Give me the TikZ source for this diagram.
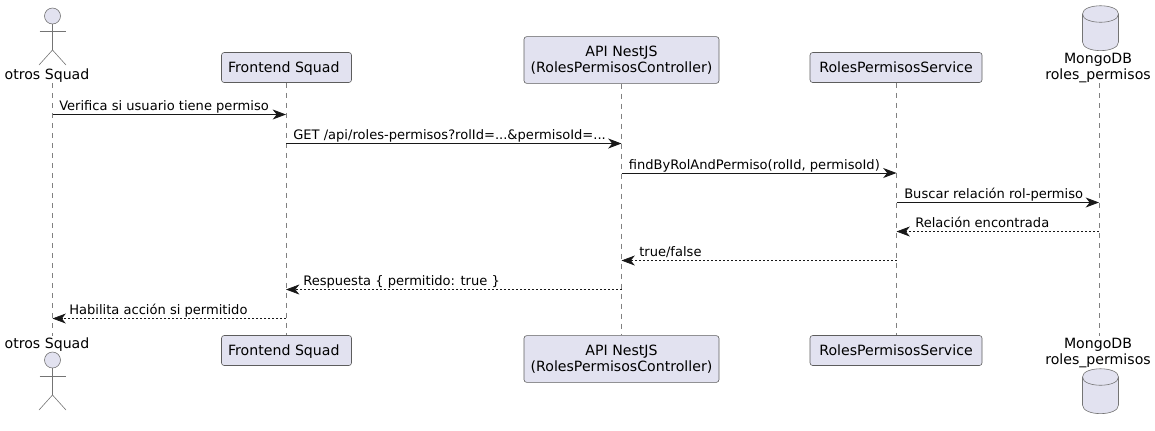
\documentclass[tikz,border=0pt]{standalone}
\usepackage{fontspec}
\usepackage{tikz}
\usetikzlibrary{arrows.meta,shapes.geometric}
\setmainfont{DejaVu Sans}
\definecolor{partfill}{HTML}{E2E2F0}
\definecolor{partline}{HTML}{181818}
\tikzset{
  part/.style={draw=partline!70,fill=partfill,line width=0.45pt,rounded corners=2pt,align=center,
    font=\fontsize{10.6}{12}\selectfont,inner sep=0pt},
  partone/.style={part,text height=9.5pt,text depth=2.2pt},
  plabel/.style={align=center,font=\fontsize{10.6}{12}\selectfont,inner sep=0pt},
  lifeline/.style={draw=partline!55,line width=0.35pt,dash pattern=on 3.75pt off 3.75pt},
  stick/.style={draw=partline!60,line width=0.45pt},
  msg/.style={draw=partline,line width=0.7pt,-{Stealth[length=10pt,width=7.5pt,inset=3pt]}},
  reply/.style={msg,line width=0.5pt,dash pattern=on 1.5pt off 1.5pt},
  mlabel/.style={anchor=base west,font=\fontsize{9.8}{12}\selectfont,inner sep=0pt}
}

\begin{document}
\begin{tikzpicture}[x=0.75pt,y=-0.75pt]
\useasboundingbox (0,0) rectangle (1155,430);

% participants, top row
\node[plabel] (actor) at (47,76) {otros Squad};
\node[coordinate] (actorl) at (52.5,83) {};
\node[partone,minimum width=97.5pt,minimum height=22.5pt] (front) at (286.5,67.5) {Frontend Squad\kern4pt};
\node[part,minimum width=146.25pt,minimum height=35pt] (api) at (621.5,60) {API NestJS\\(RolesPermisosController)};
\node[partone,minimum width=129pt,minimum height=22.5pt] (serv) at (896,67.5) {RolesPermisosService};
\node[plabel] (mongo) at (1098,68) {MongoDB\\roles\_permisos};
\node[coordinate] (mongol) at (1099,83) {};

% participants, bottom row
\node[plabel] (actorb) at (47,345) {otros Squad};
\node[coordinate] (actorbl) at (52.5,336) {};
\node[partone,minimum width=97.5pt,minimum height=22.5pt] (frontb) at (286.5,350.5) {Frontend Squad\kern4pt};
\node[part,minimum width=146.25pt,minimum height=35pt] (apib) at (621.5,359) {API NestJS\\(RolesPermisosController)};
\node[partone,minimum width=129pt,minimum height=22.5pt] (servb) at (896,350.5) {RolesPermisosService};
\node[plabel] (mongob) at (1098,353) {MongoDB\\roles\_permisos};
\node[coordinate] (mongobl) at (1099,336) {};

% life lines
\draw[lifeline] (actorl) -- (actorbl);
\draw[lifeline] (front) -- (frontb);
\draw[lifeline] (api) -- (apib);
\draw[lifeline] (serv) -- (servb);
\draw[lifeline] (mongol) -- (mongobl);

% actors
\draw[stick,fill=partfill] (52.5,16) circle (6pt);
\draw[stick] (52.5,24) -- (52.5,50);
\draw[stick] (39.5,31) -- (65.5,31);
\draw[stick] (39,65) -- (52.5,50) -- (66,65);

\draw[stick,fill=partfill] (52.5,360) circle (6pt);
\draw[stick] (52.5,368) -- (52.5,395);
\draw[stick] (39.5,376) -- (65.5,376);
\draw[stick] (39,410) -- (52.5,395) -- (66,410);

% databases
\draw[stick,fill=partfill] (1082.5,14) .. controls (1082.5,3) and (1118.5,3) .. (1118.5,14)
  -- (1118.5,42) .. controls (1118.5,53.5) and (1082.5,53.5) .. (1082.5,42) -- cycle;
\draw[stick] (1082.5,14) .. controls (1082.5,25) and (1118.5,25) .. (1118.5,14);

\draw[stick,fill=partfill] (1082.5,377) .. controls (1082.5,366) and (1118.5,366) .. (1118.5,377)
  -- (1118.5,405) .. controls (1118.5,416.5) and (1082.5,416.5) .. (1082.5,405) -- cycle;
\draw[stick] (1082.5,377) .. controls (1082.5,388) and (1118.5,388) .. (1118.5,377);

% messages
\coordinate (a1) at (52.5,114.5);
\coordinate (f1) at (286,114.5);
\draw[msg] (a1) -- (f1);
\node[mlabel] (t1) at (59,110.5) {Verifica si usuario tiene permiso};

\coordinate (f2) at (286,143.5);
\coordinate (p2) at (621.5,143.5);
\draw[msg] (f2) -- (p2);
\node[mlabel] (t2) at (293,139.5) {GET /api/roles-permisos?rolId=...\&permisoId=...};

\coordinate (p3) at (621.5,173);
\coordinate (s3) at (896.5,173);
\draw[msg] (p3) -- (s3);
\node[mlabel] (t3) at (628.5,169) {findByRolAndPermiso(rolId, permisoId)};

\coordinate (s4) at (896.5,202.5);
\coordinate (m4) at (1099,202.5);
\draw[msg] (s4) -- (m4);
\node[mlabel] (t4) at (904,198.5) {Buscar relación rol-permiso};

\coordinate (m5) at (1099,231.5);
\coordinate (s5) at (896.5,231.5);
\draw[reply] (m5) -- (s5);
\node[mlabel] (t5) at (915,227.5) {Relación encontrada};

\coordinate (s6) at (896.5,260.5);
\coordinate (p6) at (621.5,260.5);
\draw[reply] (s6) -- (p6);
\node[mlabel] (t6) at (639,256.5) {true/false};

\coordinate (p7) at (621.5,289.5);
\coordinate (f7) at (286,289.5);
\draw[reply] (p7) -- (f7);
\node[mlabel] (t7) at (303,285.5) {Respuesta \{ permitido: true \}};

\coordinate (f8) at (286,318.5);
\coordinate (a8) at (52.5,318.5);
\draw[reply] (f8) -- (a8);
\node[mlabel] (t8) at (69,314.5) {Habilita acción si permitido};
\end{tikzpicture}
\end{document}
